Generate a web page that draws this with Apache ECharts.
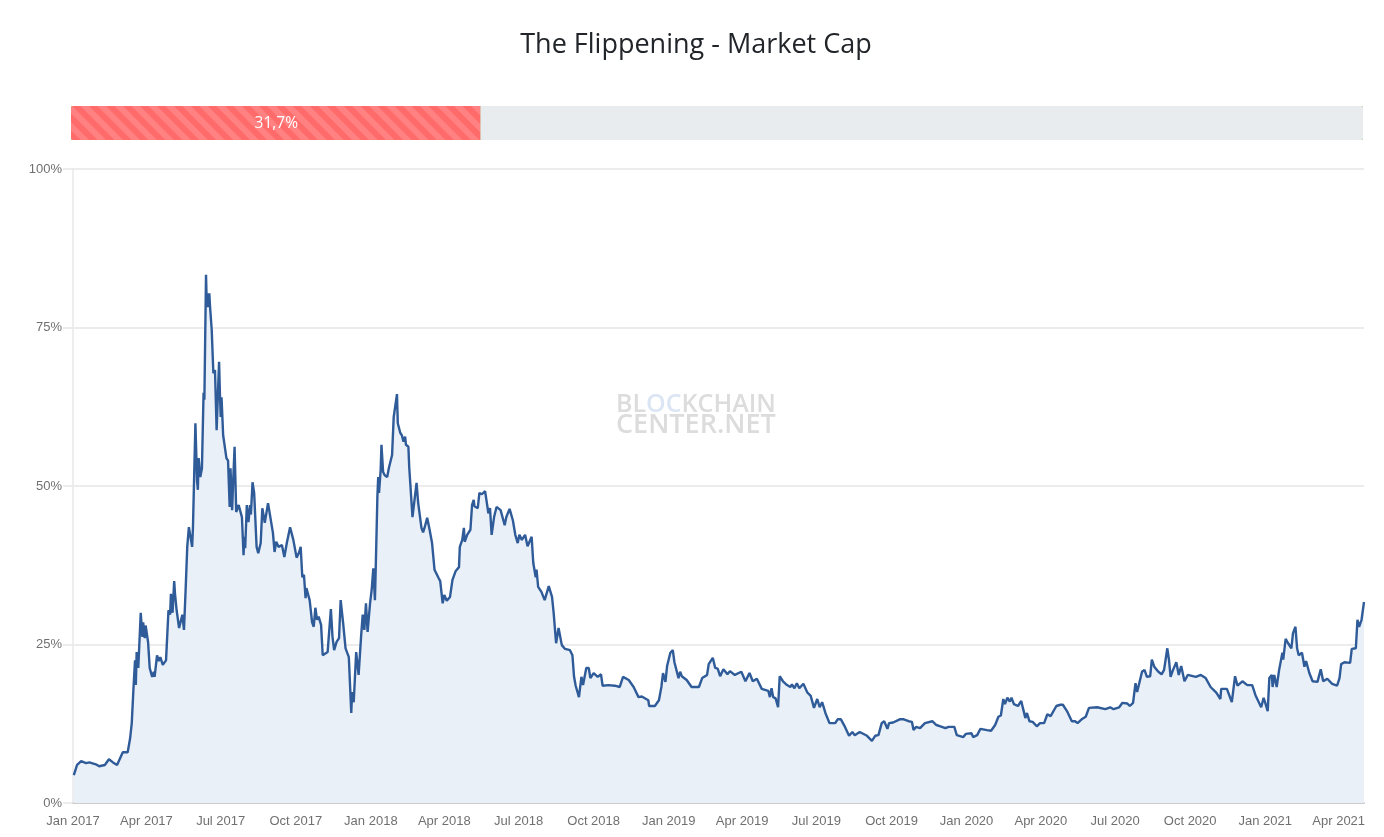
<!DOCTYPE html>
<html>
<head>
<meta charset="utf-8">
<title>The Flippening - Market Cap</title>
<script src="https://cdn.jsdelivr.net/npm/echarts@6/dist/echarts.min.js"></script>
<style>
    html, body { margin: 0; padding: 0; background: #fff; }
    #chart { width: 1384px; height: 837px; }
</style>
</head>
<body>
<div id="chart"></div>
<script>
const titleText = 'The Flippening - Market Cap'
const startDate = Date.UTC(2017, 0, 1)
const endDay = 1582
const currentShare = [31.7]
const restShare = [68.3]
const fullShare = [100]
const currentLabel = '31,7%'
const yTicks = [0, 25, 50, 75, 100]

// days since startDate
const days = [
1,5,10,16,20,28,32,39,44,49,54,61,67,70,72,74,76,77,78,80,83,85,86,88,89,92,94,97,99,100,103,105,107,110,114,117,119,120,122,124,125,127,130,134,136,138,140,142,146,147,150,152,153,154,156,158,160,161,163,164,165,166,167,168,170,172,174,176,179,180,181,182,184,186,188,190,192,193,195,196,198,200,203,205,207,209,210,211,213,215,217,218,220,222,225,227,230,232,235,239,241,245,247,249,252,256,259,262,264,266,270,274,277,279,281,283,285,286,290,293,295,297,299,301,304,306,308,312,316,318,320,323,326,328,331,334,338,341,342,344,347,350,353,355,357,359,361,364,366,368,370,371,373,374,375,377,378,380,382,385,387,391,393,395,397,398,401,403,405,407,408,411,412,416,421,423,427,429,431,434,437,440,443,448,450,453,455,458,462,465,469,473,474,477,479,480,483,487,489,491,492,494,496,498,501,505,509,511,513,516,519,524,529,531,535,539,542,545,547,550,554,557,562,564,567,568,570,574,578,583,587,589,592,595,599,603,609,612,614,616,620,623,625,629,632,634,638,643,647,649,656,664,670,674,681,687,693,697,705,706,713,718,721,723,726,728,730,732,735,737,739,742,744,746,752,758,767,771,777,779,784,787,790,793,797,802,805,811,819,824,829,833,838,844,852,854,856,858,861,864,866,870,875,879,881,884,887,890,895,900,904,908,912,915,918,922,924,927,934,937,941,946,951,955,958,964,973,979,983,987,991,994,998,1000,1005,1013,1018,1024,1028,1030,1033,1038,1044,1053,1058,1063,1069,1073,1080,1083,1091,1094,1101,1103,1108,1112,1120,1125,1130,1134,1137,1140,1142,1145,1148,1150,1153,1158,1162,1164,1167,1169,1172,1176,1181,1185,1190,1194,1198,1205,1210,1213,1218,1224,1228,1231,1236,1241,1245,1247,1255,1265,1271,1275,1282,1286,1292,1295,1299,1302,1304,1306,1310,1313,1316,1320,1322,1325,1330,1334,1337,1341,1343,1345,1348,1352,1355,1358,1362,1366,1376,1382,1388,1394,1401,1406,1407,1414,1420,1424,1427,1433,1439,1445,1449,1456,1459,1461,1464,1466,1469,1470,1472,1475,1478,1480,1482,1483,1486,1489,1493,1495,1498,1500,1502,1506,1509,1511,1515,1519,1525,1529,1532,1537,1543,1549,1552,1554,1558,1565,1567,1572,1574,1576,1579,1582
]
// market cap share in %
const shares = [
4.4,6,6.6,6.3,6.4,6.1,5.8,6,6.9,6.4,6,8,8,10.2,12.6,17.8,22.5,18.6,23.8,21.3,30,26.2,28.5,26,28,25.4,21.3,19.9,20.7,19.9,23.3,22.4,23,21.8,22.5,30.4,29.7,33,30,35,33,30.4,27.6,29.7,27.3,33.6,40.4,43.5,40.4,43.5,59.9,50.9,49.4,54.4,51.4,52.8,64.7,63.6,83.3,78.2,80.4,78.2,80.4,78.2,74.6,67.8,68.3,58.8,69.6,64.7,60.9,64,58,57.7,54.4,54,46.7,52.8,46.2,49.8,56.2,45.9,47,46.7,45.1,39.1,42,40.2,47,44.3,47,45.5,50.6,48.9,40.4,39.4,41,46.5,44.2,47.3,47.3,42.6,39.6,41.2,40.4,40.7,38.8,41,41.2,43.5,41.5,38.7,39.5,40.4,35.6,36,32.3,33.9,32,28.5,27.8,30.8,28.9,29.4,28.1,23.3,23,23.8,30.6,26.2,24.1,25.4,26,32,28.4,24.4,23,14.2,17.5,15.9,23.8,20.2,26.2,29.7,27.3,31.5,27,31.5,33.6,37,32,37.2,48.3,51.4,48.9,52.5,56.5,52.2,51.7,51.4,52.8,54.9,60.9,60.7,64.5,59.9,58.4,58,57,57.8,56.5,56.2,53,45.1,50.5,47.3,43.4,42.7,43.5,45,43.1,41,36.8,35.5,35,31.5,32.8,31.9,32.5,35.2,36.6,37.2,40.4,41.5,43.4,41.2,42.3,43.1,47,47.8,46.8,47,46.5,48.9,48.7,49.2,45.7,46.5,42.3,45.1,46.7,46.2,43.8,45.1,46.4,44.6,42.3,41,42.3,41.5,42.3,40.5,42,37.9,35.6,36.8,34.1,33.3,32,34.2,32.5,30,25.2,27.6,24.9,24.3,24.1,23.3,19.9,18.5,16.7,19.9,18.6,21.3,21.3,19.7,20.5,19.9,20.3,18.5,18.6,18.5,18.3,19.9,19.4,18.3,16.7,16.8,16.2,15.3,15.3,16.2,18.3,20.5,19.1,21.6,21.3,23.7,24.1,22.2,22.4,19.7,20.7,20,19.4,18.3,18.3,19.7,20.2,21.9,22.9,21.3,21.2,20,21.1,20.3,20.8,20.2,20.7,19.2,20.5,19.2,19.6,18,17.7,16.7,18.1,16.7,16.5,15.1,20,19.2,18.6,18.3,18.7,18.1,18.9,18.1,18.8,17.4,16.9,15,16.4,15.1,15.9,14.2,14,12.6,12.6,13.2,13.2,12,10.6,11.2,10.7,11.2,10.6,9.8,10.6,10.7,12.6,12.9,11.7,12.6,12.7,13.2,13.2,12.9,12.8,11.5,12,11.8,12.6,12.9,12.3,12.1,11.8,12,12,10.7,10.4,10.9,11,10.4,10.7,11.7,11.5,11.4,12.3,13.6,13.8,16.4,15.6,16.6,16,16.6,15.6,15.3,16.1,15,13.4,14.2,12.9,12.8,12.1,12.6,12.6,14,13.7,15.3,15.5,15.5,14.5,12.9,12.9,12.6,13.2,13.6,15,15.1,15.1,14.8,15.1,14.8,15.1,15.8,15.7,15.3,15.8,18.9,17.5,17.3,20.7,21,19.9,20,22.6,21.5,20.7,20.3,21,24.4,22.6,19.9,21,22.2,20.2,21.6,19.2,20.2,19.9,20.2,19.7,18.3,17.4,16.4,18,18,15.9,20,18.5,19.2,18.6,18.6,17,15.1,16.6,15.8,14.5,19.7,20.2,18.3,20.2,18.3,21,21,23.7,22.6,25.9,25.2,24.4,26.8,27.8,24.4,23.3,23.7,21.5,22.4,20.5,19.2,19.1,21.1,19.2,19.6,18.8,18.5,19.7,21.9,22.2,22.1,24.3,24.4,28.9,27.8,28.9,31.7
]

const dayMs = 24 * 3600 * 1000
const monthNames = ['Jan', 'Feb', 'Mar', 'Apr', 'May', 'Jun', 'Jul', 'Aug', 'Sep', 'Oct', 'Nov', 'Dec']
const lineData = days.map((d, i) => [startDate + d * dayMs, shares[i]])

const myChart = echarts.init(document.getElementById('chart'), null, { useUTC: true })

const option = {
    animation: false,
    backgroundColor: '#fff',
    title: {
        text: titleText,
        left: 691,
        top: 27,
        textAlign: 'center',
        textStyle: { fontFamily: 'Open Sans', fontSize: 27, fontWeight: 'normal', color: '#212529' }
    },
    graphic: [{
        type: 'text',
        left: 616,
        top: 392,
        silent: true,
        style: {
            text: '{a|BL}{b|OC}{a|KCHAIN}\n{c|CENTER.NET}',
            rich: {
                a: { fontFamily: 'Open Sans', fontSize: 25, fontWeight: 600, fill: '#dcdcdc', lineHeight: 21 },
                b: { fontFamily: 'Open Sans', fontSize: 25, fontWeight: 600, fill: '#dbe5f3', lineHeight: 21 },
                c: { fontFamily: 'Open Sans', fontSize: 27, fontWeight: 600, fill: '#dcdcdc', lineHeight: 21 }
            }
        }
    }],
    grid: [
        { left: 73, right: 20, top: 169, bottom: 34 },
        { left: 71, width: 1292, top: 106, height: 34 }
    ],
    xAxis: [{
        type: 'time',
        gridIndex: 0,
        min: startDate,
        max: startDate + endDay * dayMs,
        minInterval: 88 * dayMs,
        maxInterval: 93 * dayMs,
        axisLine: { show: true, lineStyle: { color: '#cccccc', width: 2 } },
        axisTick: { show: false },
        splitLine: { show: false },
        axisLabel: {
            color: '#707070',
            fontFamily: 'Liberation Sans',
            fontSize: 13,
            margin: 12,
            hideOverlap: false,
            showMinLabel: true,
            formatter: function (value) {
                const d = new Date(value)
                return monthNames[d.getUTCMonth()] + ' ' + d.getUTCFullYear()
            }
        }
    }, {
        type: 'value',
        gridIndex: 1,
        min: 0,
        max: 100,
        show: false
    }],
    yAxis: [{
        type: 'value',
        gridIndex: 0,
        min: yTicks[0],
        max: yTicks[yTicks.length - 1],
        interval: 25,
        axisLine: { show: true, lineStyle: { color: '#eeeeee', width: 2 } },
        axisTick: { show: true, length: 10, lineStyle: { color: '#e6e6e6', width: 1.5 } },
        splitLine: { show: true, lineStyle: { color: '#e6e6e6', width: 1.5 } },
        axisLabel: {
            color: '#707070',
            fontFamily: 'Liberation Sans',
            fontSize: 13,
            margin: 11,
            formatter: '{value}%'
        }
    }, {
        type: 'category',
        gridIndex: 1,
        data: ['share'],
        show: false
    }],
    series: [{
        type: 'line',
        name: 'Market Cap',
        data: lineData,
        xAxisIndex: 0,
        yAxisIndex: 0,
        showSymbol: false,
        symbol: 'none',
        lineStyle: { color: '#2f5b99', width: 2.4 },
        areaStyle: { color: '#e9f0f8', opacity: 1 }
    }, {
        type: 'bar',
        data: fullShare,
        xAxisIndex: 1,
        yAxisIndex: 1,
        barWidth: 34,
        barGap: '-100%',
        silent: true,
        itemStyle: { color: '#a9d48f' }
    }, {
        type: 'bar',
        stack: 'share',
        data: currentShare,
        xAxisIndex: 1,
        yAxisIndex: 1,
        barWidth: 34,
        silent: true,
        itemStyle: {
            color: '#ff6b6b',
            borderRadius: [2, 0, 0, 2],
            decal: {
                symbol: 'rect',
                color: 'rgba(255,255,255,0.15)',
                dashArrayX: [1, 0],
                dashArrayY: [5.66, 5.66],
                symbolSize: 1,
                rotation: Math.PI / 4
            }
        },
        label: {
            show: true,
            position: 'inside',
            offset: [0.5, 1],
            color: '#fff',
            fontFamily: 'Open Sans',
            fontSize: 15.5,
            formatter: currentLabel
        }
    }, {
        type: 'bar',
        stack: 'share',
        data: restShare,
        xAxisIndex: 1,
        yAxisIndex: 1,
        barWidth: 34,
        silent: true,
        itemStyle: { color: '#e9ecef', borderRadius: [0, 2, 2, 0] }
    }]
}

myChart.setOption(option)
</script>
</body>
</html>
